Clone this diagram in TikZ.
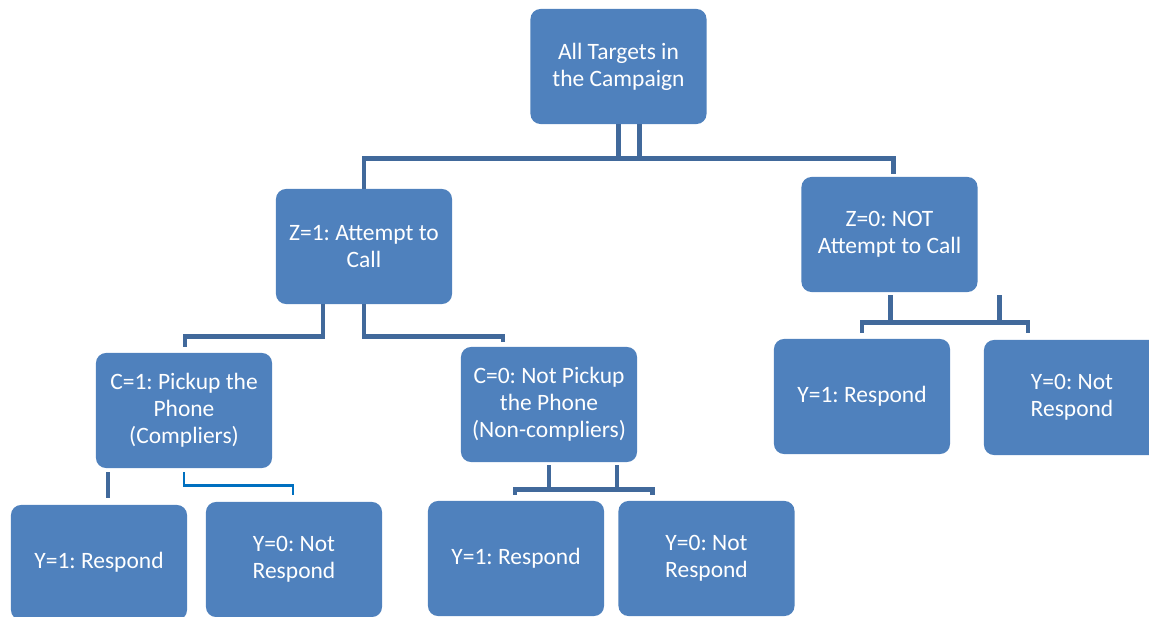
\documentclass[tikz,border=0pt]{standalone}
\usepackage{fontspec}
\setmainfont{Carlito}
\usetikzlibrary{calc}
\definecolor{boxblue}{HTML}{4F81BD}
\definecolor{linkblue}{HTML}{41699B}
\definecolor{brightblue}{HTML}{0070C0}
\tikzset{
  box/.style={rectangle,rounded corners=0.25cm,fill=boxblue,text=white,align=center,
    minimum width=4.4cm,minimum height=2.875cm,inner sep=2pt,
    font=\fontsize{16.7}{19.2}\selectfont\frenchspacing},
  link/.style={draw=linkblue,line width=3.5pt},
  thinlink/.style={draw=brightblue,line width=2pt},
}
\begin{document}
\begin{tikzpicture}[x=0.025cm,y=-0.025cm]
\useasboundingbox (0,0) rectangle (1149,617);
\node[box] (root) at (618.5,66.5){All Targets in\\the Campaign};
\node[box] (z1) at (364,246.5){Z=1: Attempt to\\Call};
\node[box] (z0) at (889.5,234.5){Z=0: NOT\\Attempt to Call};
\node[box] (c1) at (184,410.5){C=1: Pickup the\\Phone\\(Compliers)};
\node[box] (c0) at (549,404.5){C=0: Not Pickup\\the Phone\\(Non-compliers)};
\node[box] (z0y1) at (862,396.5){Y=1: Respond};
\node[box] (z0y0) at (1072,397.5){Y=0: Not\\Respond};
\node[box] (c1y1) at (99,562.5){Y=1: Respond};
\node[box] (c1y0) at (294,559.5){Y=0: Not\\Respond};
\node[box] (c0y1) at (516,558.5){Y=1: Respond};
\node[box] (c0y0) at (706.5,558.5){Y=0: Not\\Respond};
% top level
\draw[link] (root.south) -- ++(0,34) coordinate (rhub);
\draw[link] ($(root.south)+(21,0)$) -- ++(0,34);
\draw[link] (z1.north) |- (rhub) -| ($(z0.north)+(4,-3)$);
% Z=1
\draw[link] ($(z1.south)+(-41,0)$) -- ++(0,32) -| ($(c1.north)+(1,-6)$);
\draw[link] (z1.south) -- ++(0,32) -| ($(c0.north)+(-46,-5)$);
% Z=0
\draw[link] ($(z0.south)+(1,3)$) -- ++(0,27) coordinate (zhub);
\draw[link] ($(z0.south)+(110,3)$) -- ++(0,27);
\draw[link] ($(z0y1.north)+(0,-6)$) |- (zhub) -| ($(z0y0.north)+(-44,-7)$);
% C=1
\draw[link] ($(c1.south)+(-76,4)$) -- ++(0,26);
\draw[thinlink] ($(c1.south)+(0,4)$) -- ++(0,13) -| ($(c1y0.north)+(-1,-7)$);
% C=0
\draw[link] ($(c0.south)+(0,3)$) -- ++(0,24) coordinate (chub);
\draw[link] ($(c0.south)+(68,3)$) -- ++(0,24);
\draw[link] ($(c0y1.north)+(-1,-6)$) |- (chub) -| ($(c0y0.north)+(-54,-6)$);
\end{tikzpicture}
\end{document}
